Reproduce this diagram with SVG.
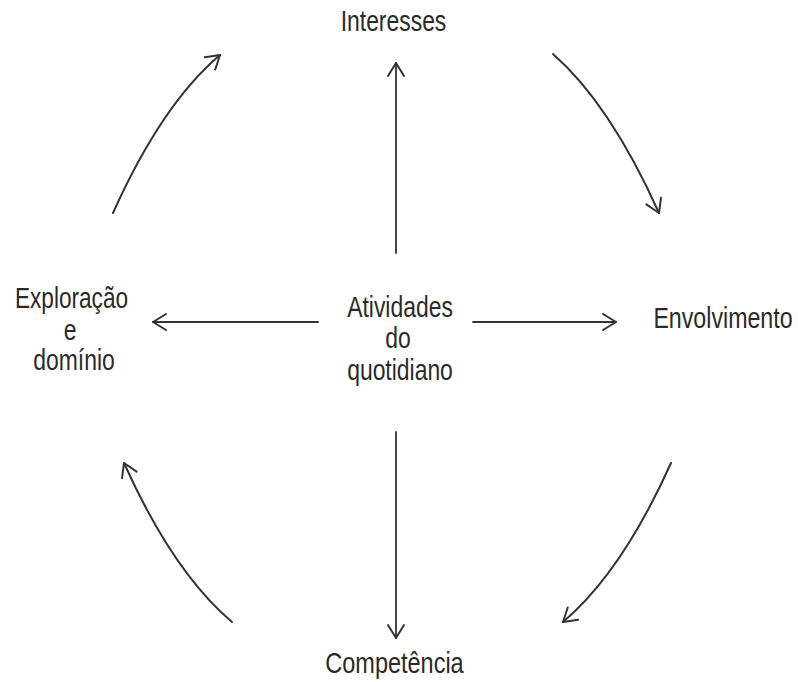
<svg xmlns="http://www.w3.org/2000/svg" width="798" height="682" viewBox="0 0 798 682">
  <style>
    .lbl { font-family: "Liberation Sans", Arial, sans-serif; font-size: 29px; fill: #2a2a2a; text-anchor: middle; }
    .edge { fill: none; stroke: #333; stroke-width: 2; stroke-linecap: round; marker-end: url(#head); }
    .straight { stroke-width: 1.8; }
  </style>
  <defs>
    <marker id="head" markerUnits="userSpaceOnUse" viewBox="-16 -10 18 20" refX="0" refY="0" markerWidth="18" markerHeight="20" orient="auto" overflow="visible">
      <path d="M-13,-8 L0,0 L-13,8" fill="none" stroke="#333" stroke-width="2" stroke-linecap="round" stroke-linejoin="round"/>
    </marker>
  </defs>
  <rect width="798" height="682" fill="#ffffff"/>

  <g id="connectors">
    <!-- spokes from the centre -->
    <path class="edge straight" d="M396,253 L396,63"/>
    <path class="edge straight" d="M396,432 L396,638"/>
    <path class="edge straight" d="M318,322 L153,322"/>
    <path class="edge straight" d="M473,322 L616,322"/>
    <!-- outer cycle -->
    <path class="edge" d="M113,213 Q162,104 220,55"/>
    <path class="edge" d="M553,54 Q610,104 659,213"/>
    <path class="edge" d="M671,463 Q622,572 563,622"/>
    <path class="edge" d="M232,622 Q173,572 124,463"/>
  </g>

  <g id="centro">
    <text class="lbl" transform="translate(400,317) scale(0.79,1)">Atividades</text>
    <text class="lbl" transform="translate(398,348) scale(0.79,1)">do</text>
    <text class="lbl" transform="translate(400,380) scale(0.79,1)">quotidiano</text>
  </g>
  <g id="interesses">
    <text class="lbl" transform="translate(393.5,31) scale(0.79,1)">Interesses</text>
  </g>
  <g id="envolvimento">
    <text class="lbl" transform="translate(723,328) scale(0.80,1)">Envolvimento</text>
  </g>
  <g id="competencia">
    <text class="lbl" transform="translate(394.5,673) scale(0.81,1)">Competência</text>
  </g>
  <g id="exploracao">
    <text class="lbl" transform="translate(71.5,308) scale(0.78,1)">Exploração</text>
    <text class="lbl" transform="translate(70,340) scale(0.79,1)">e</text>
    <text class="lbl" transform="translate(74,370) scale(0.79,1)">domínio</text>
  </g>
</svg>
